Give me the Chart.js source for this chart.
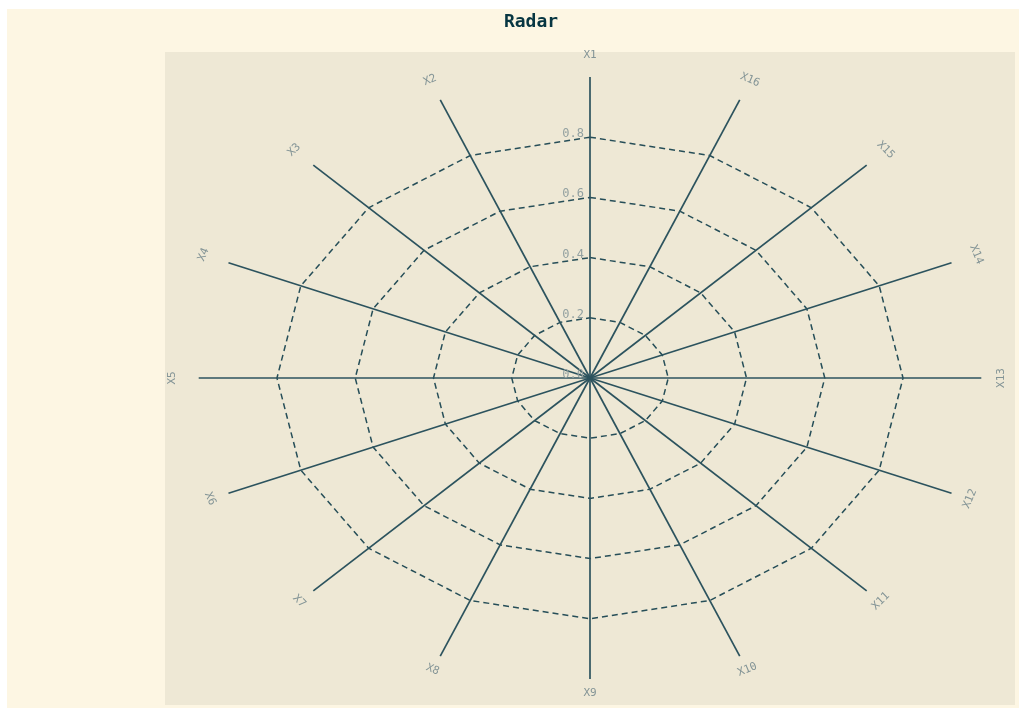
<!DOCTYPE html>
<html>
<head>
<meta charset="utf-8">
<script src="https://cdn.jsdelivr.net/npm/chart.js@4.4.1/dist/chart.umd.min.js"></script>
<style>
    html, body { margin: 0; padding: 0; background: #ffffff; }
    #grafico { position: absolute; left: 7px; top: 9px; background: #fdf6e3; }
</style>
</head>
<body>
<canvas id="grafico" width="1012" height="699"></canvas>
<script>
// eixos na ordem do chart.js (sentido horário a partir do topo)
const eixos = ['X1', 'X16', 'X15', 'X14', 'X13', 'X12', 'X11', 'X10', 'X9', 'X8', 'X7', 'X6', 'X5', 'X4', 'X3', 'X2'];
const valores = [0, 0, 0, 0, 0, 0, 0, 0, 0, 0, 0, 0, 0, 0, 0, 0];
const escalaMin = 0;
const escalaMax = 1;
const passo = 0.2;
const titulo = 'Radar';

const ESTICAR_X = 1.3;   // o radar do original é uma elipse
const RAIO = 0.926;      // fração da área usada pela escala
const fonteMono = "'DejaVu Sans Mono', monospace";

const esticarEscala = (scale) => {
    scale.drawingArea = Math.floor(scale.drawingArea * RAIO);
    if (scale._esticada) return;
    const original = Object.getPrototypeOf(scale).getPointPosition;
    scale.getPointPosition = function (i, dist, extra) {
        const p = original.call(this, i, dist, extra);
        return { x: this.xCenter + (p.x - this.xCenter) * ESTICAR_X, y: p.y, angle: p.angle };
    };
    scale._esticada = true;
};

const pluginFundo = {
    id: 'fundo',
    beforeDraw(chart) {
        const { ctx, chartArea: a } = chart;
        ctx.save();
        ctx.fillStyle = '#eee8d5';
        ctx.fillRect(a.left, a.top, a.right - a.left, a.bottom - a.top);
        ctx.restore();
    },
    afterDraw(chart) {
        const { ctx } = chart;
        const r = chart.scales.r;
        ctx.save();
        // titulo
        ctx.fillStyle = '#073642';
        ctx.font = `bold 18px ${fonteMono}`;
        ctx.textAlign = 'center';
        ctx.textBaseline = 'alphabetic';
        ctx.fillText(titulo, 524, 18);

        // valores dos ticks
        ctx.fillStyle = '#93a1a1';
        ctx.font = `12px ${fonteMono}`;
        ctx.textAlign = 'right';
        r.ticks.forEach(t => {
            const y = r.yCenter - r.getDistanceFromCenterForValue(t.value);
            ctx.fillText(t.value.toFixed(1), r.xCenter - 6, y);
        });

        // rótulos dos eixos, girados
        ctx.fillStyle = '#839496';
        ctx.font = `11px ${fonteMono}`;
        ctx.textAlign = 'center';
        ctx.textBaseline = 'middle';
        eixos.forEach((nome, i) => {
            const graus = r.getIndexAngle(i) * 180 / Math.PI;
            const rot = (((graus + 90) % 180) - 90) * Math.PI / 180;
            const p = r.getPointPosition(i, r.drawingArea * 1.06);
            const x = p.x + 3.5 * Math.sin(rot);
            const y = p.y - 3.5 * Math.cos(rot);
            ctx.save();
            ctx.translate(x, y);
            ctx.rotate(rot);
            ctx.fillText(nome, 0, 0);
            ctx.restore();
        });
        ctx.restore();
    }
};

const main = () => {
    const ctx = document.getElementById('grafico');
    if (!ctx) throw 'grafico não encontrado!';

    new Chart(ctx, {
        type: 'radar',
        data: {
            labels: eixos,
            datasets: [{
                label: titulo,
                data: valores,
                borderColor: '#264e58',
                borderWidth: 1.6,
                backgroundColor: 'rgba(0,0,0,0)',
                pointRadius: 0,
                fill: false
            }]
        },
        options: {
            responsive: false,
            animation: false,
            layout: { padding: { left: 158, right: 4, top: 43, bottom: 3 } },
            plugins: {
                legend: { display: false },
                title: { display: false },
                tooltip: { enabled: false }
            },
            scales: {
                r: {
                    min: escalaMin,
                    max: escalaMax,
                    ticks: { display: false, stepSize: passo },
                    afterBuildTicks: s => { s.ticks = s.ticks.filter(t => t.value < escalaMax - 1e-9); },
                    afterFit: esticarEscala,
                    pointLabels: { display: false },
                    grid: { circular: false, color: '#264e58', lineWidth: 1.5 },
                    border: { dash: [6, 4] },
                    angleLines: { color: '#2c535e', lineWidth: 1.7 }
                }
            }
        },
        plugins: [pluginFundo]
    });
};
main();
</script>
</body>
</html>
